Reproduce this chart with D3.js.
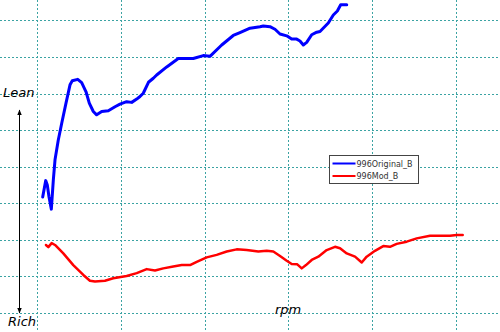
<!DOCTYPE html>
<html>
<head>
<meta charset="utf-8">
<script src="https://cdn.jsdelivr.net/npm/d3@7"></script>
<style>
  body { margin: 0; background: #fff; }
  svg { display: block; }
</style>
</head>
<body>
<div id="viz"></div>
<script>
const width = 500;
const height = 332;

const colorOriginal = '#0000ff';
const colorMod = '#ff0000';
const colorGrid = '#3ba3a3';

// grid positions (rpm and relative mixture units)
const rpmTicks = [1000, 2000, 3000, 4000, 5000, 6000];
const mixTicks = [0, 1, 2, 3, 4, 5, 6, 7, 8];

const seriesNames = ['996Original_B', '996Mod_B'];

// 996Original_B
const originalRpm = [1068, 1104, 1123, 1143, 1171, 1195, 1215, 1254, 1295, 1346, 1394, 1421, 1486, 1533, 1585,
  1624, 1672, 1712, 1772, 1851, 1931, 1990, 2070, 2130, 2190, 2229, 2268, 2330, 2388, 2428, 2548, 2686, 2865,
  2984, 3064, 3204, 3342, 3422, 3542, 3661, 3700, 3780, 3840, 3900, 3980, 4039, 4099, 4138, 4178, 4218, 4278,
  4338, 4377, 4476, 4536, 4584, 4624, 4696];
const originalMix = [3.17, 3.62, 3.50, 3.18, 2.84, 3.64, 4.19, 4.73, 5.19, 5.74, 6.24, 6.35, 6.39, 6.30, 6.05,
  5.74, 5.51, 5.42, 5.51, 5.53, 5.64, 5.71, 5.78, 5.76, 5.85, 5.92, 6.01, 6.31, 6.42, 6.51, 6.73, 6.96, 6.96,
  7.04, 7.02, 7.33, 7.59, 7.67, 7.79, 7.83, 7.85, 7.83, 7.76, 7.63, 7.58, 7.49, 7.49, 7.44, 7.33, 7.40, 7.61,
  7.68, 7.70, 7.93, 8.15, 8.26, 8.43, 8.43];

// 996Mod_B
const modRpm = [1107, 1135, 1175, 1215, 1314, 1433, 1553, 1632, 1692, 1811, 1910, 2070, 2190, 2309, 2408, 2507,
  2626, 2727, 2826, 2906, 3025, 3144, 3264, 3383, 3502, 3641, 3741, 3820, 3900, 3980, 4039, 4106, 4159, 4210,
  4278, 4357, 4457, 4556, 4616, 4696, 4795, 4875, 4934, 5033, 5132, 5212, 5292, 5412, 5531, 5690, 5809, 5928,
  6008, 6080];
const modMix = [1.86, 1.80, 1.91, 1.86, 1.63, 1.31, 1.04, 0.88, 0.86, 0.88, 0.95, 1.01, 1.09, 1.20, 1.16, 1.22,
  1.27, 1.31, 1.31, 1.40, 1.52, 1.59, 1.68, 1.74, 1.72, 1.68, 1.70, 1.68, 1.56, 1.43, 1.34, 1.33, 1.22, 1.31,
  1.45, 1.54, 1.72, 1.81, 1.77, 1.63, 1.54, 1.38, 1.54, 1.70, 1.83, 1.81, 1.89, 1.95, 2.04, 2.11, 2.11, 2.11,
  2.13, 2.13];

const series = [
  { name: seriesNames[0], color: colorOriginal, points: originalRpm.map((r, i) => ({ rpm: r, mix: originalMix[i] })) },
  { name: seriesNames[1], color: colorMod, points: modRpm.map((r, i) => ({ rpm: r, mix: modMix[i] })) }
];

const svg = d3.select('#viz')
  .append('svg')
    .attr('viewBox', [0, 0, width, height])
    .attr('width', width)
    .attr('height', height);

// Scales: gridlines sit at 37px + 83.8px steps horizontally, 313px - 36.55px steps vertically
const xScale = d3.scaleLinear()
  .domain([558.5, 6525])
  .range([0, width]);
const yScale = d3.scaleLinear()
  .domain([-0.52, 8.56])
  .range([height, 0]);

// Grid
const grid = svg.append('g').attr('class', 'grid');
grid.selectAll('.vgrid')
  .data(rpmTicks)
  .join('line')
    .attr('class', 'vgrid')
    .attr('x1', d => Math.round(xScale(d)) + 0.5)
    .attr('x2', d => Math.round(xScale(d)) + 0.5)
    .attr('y1', 0)
    .attr('y2', height)
    .attr('stroke', colorGrid)
    .attr('stroke-dasharray', '2,2');
grid.selectAll('.hgrid')
  .data(mixTicks)
  .join('line')
    .attr('class', 'hgrid')
    .attr('x1', 0)
    .attr('x2', width)
    .attr('y1', d => Math.round(yScale(d)) + 0.5)
    .attr('y2', d => Math.round(yScale(d)) + 0.5)
    .attr('stroke', colorGrid)
    .attr('stroke-dasharray', '2,2');

// Lines
const line = d3.line()
  .x(d => xScale(d.rpm))
  .y(d => yScale(d.mix));

svg.append('g')
    .attr('class', 'lines')
  .selectAll('path')
  .data(series)
  .join('path')
    .attr('d', d => line(d.points))
    .attr('fill', 'none')
    .attr('stroke', d => d.color)
    .attr('stroke-width', d => d.name === seriesNames[0] ? 3 : 2.5)
    .attr('stroke-linejoin', 'round')
    .attr('stroke-linecap', 'round');

// Lean / Rich arrow
const defs = svg.append('defs');
defs.append('marker')
    .attr('id', 'arrow')
    .attr('viewBox', '0 0 10 10')
    .attr('refX', 9)
    .attr('refY', 5)
    .attr('markerWidth', 6)
    .attr('markerHeight', 9)
    .attr('orient', 'auto-start-reverse')
  .append('path')
    .attr('d', 'M0,1 L10,5 L0,9 Z')
    .attr('fill', '#000');

svg.append('line')
    .attr('x1', 19.5)
    .attr('x2', 19.5)
    .attr('y1', 110)
    .attr('y2', 313)
    .attr('stroke', '#000')
    .attr('stroke-width', 1)
    .attr('marker-start', 'url(#arrow)')
    .attr('marker-end', 'url(#arrow)');

const labelStyle = sel => sel
  .style('font-family', 'DejaVu Sans, Verdana, sans-serif')
  .style('font-style', 'italic')
  .style('font-size', '13px')
  .attr('fill', '#000');

svg.append('text').attr('x', 3).attr('y', 97).text('Lean').call(labelStyle);
svg.append('text').attr('x', 8).attr('y', 326).text('Rich').call(labelStyle);
svg.append('text').attr('x', 275).attr('y', 314).text('rpm').call(labelStyle);

// Legend
const legend = svg.append('g')
    .attr('class', 'legend-group')
    .attr('transform', 'translate(329.5, 155.5)');
legend.append('rect')
    .attr('width', 89)
    .attr('height', 28)
    .attr('fill', '#fff')
    .attr('stroke', '#444')
    .attr('stroke-width', 1);
legend.selectAll('.legend-line')
  .data(series)
  .join('line')
    .attr('class', 'legend-line')
    .attr('x1', 3)
    .attr('x2', 26)
    .attr('y1', (d, i) => 8 + i * 12.5)
    .attr('y2', (d, i) => 8 + i * 12.5)
    .attr('stroke', d => d.color)
    .attr('stroke-width', 2);
legend.selectAll('.legend-text')
  .data(series)
  .join('text')
    .attr('class', 'legend-text')
    .attr('x', 27)
    .attr('y', (d, i) => 11 + i * 12.5)
    .style('font-family', 'DejaVu Sans, Verdana, sans-serif')
    .style('font-size', '8px')
    .attr('fill', '#333')
    .text(d => d.name);
</script>
</body>
</html>
